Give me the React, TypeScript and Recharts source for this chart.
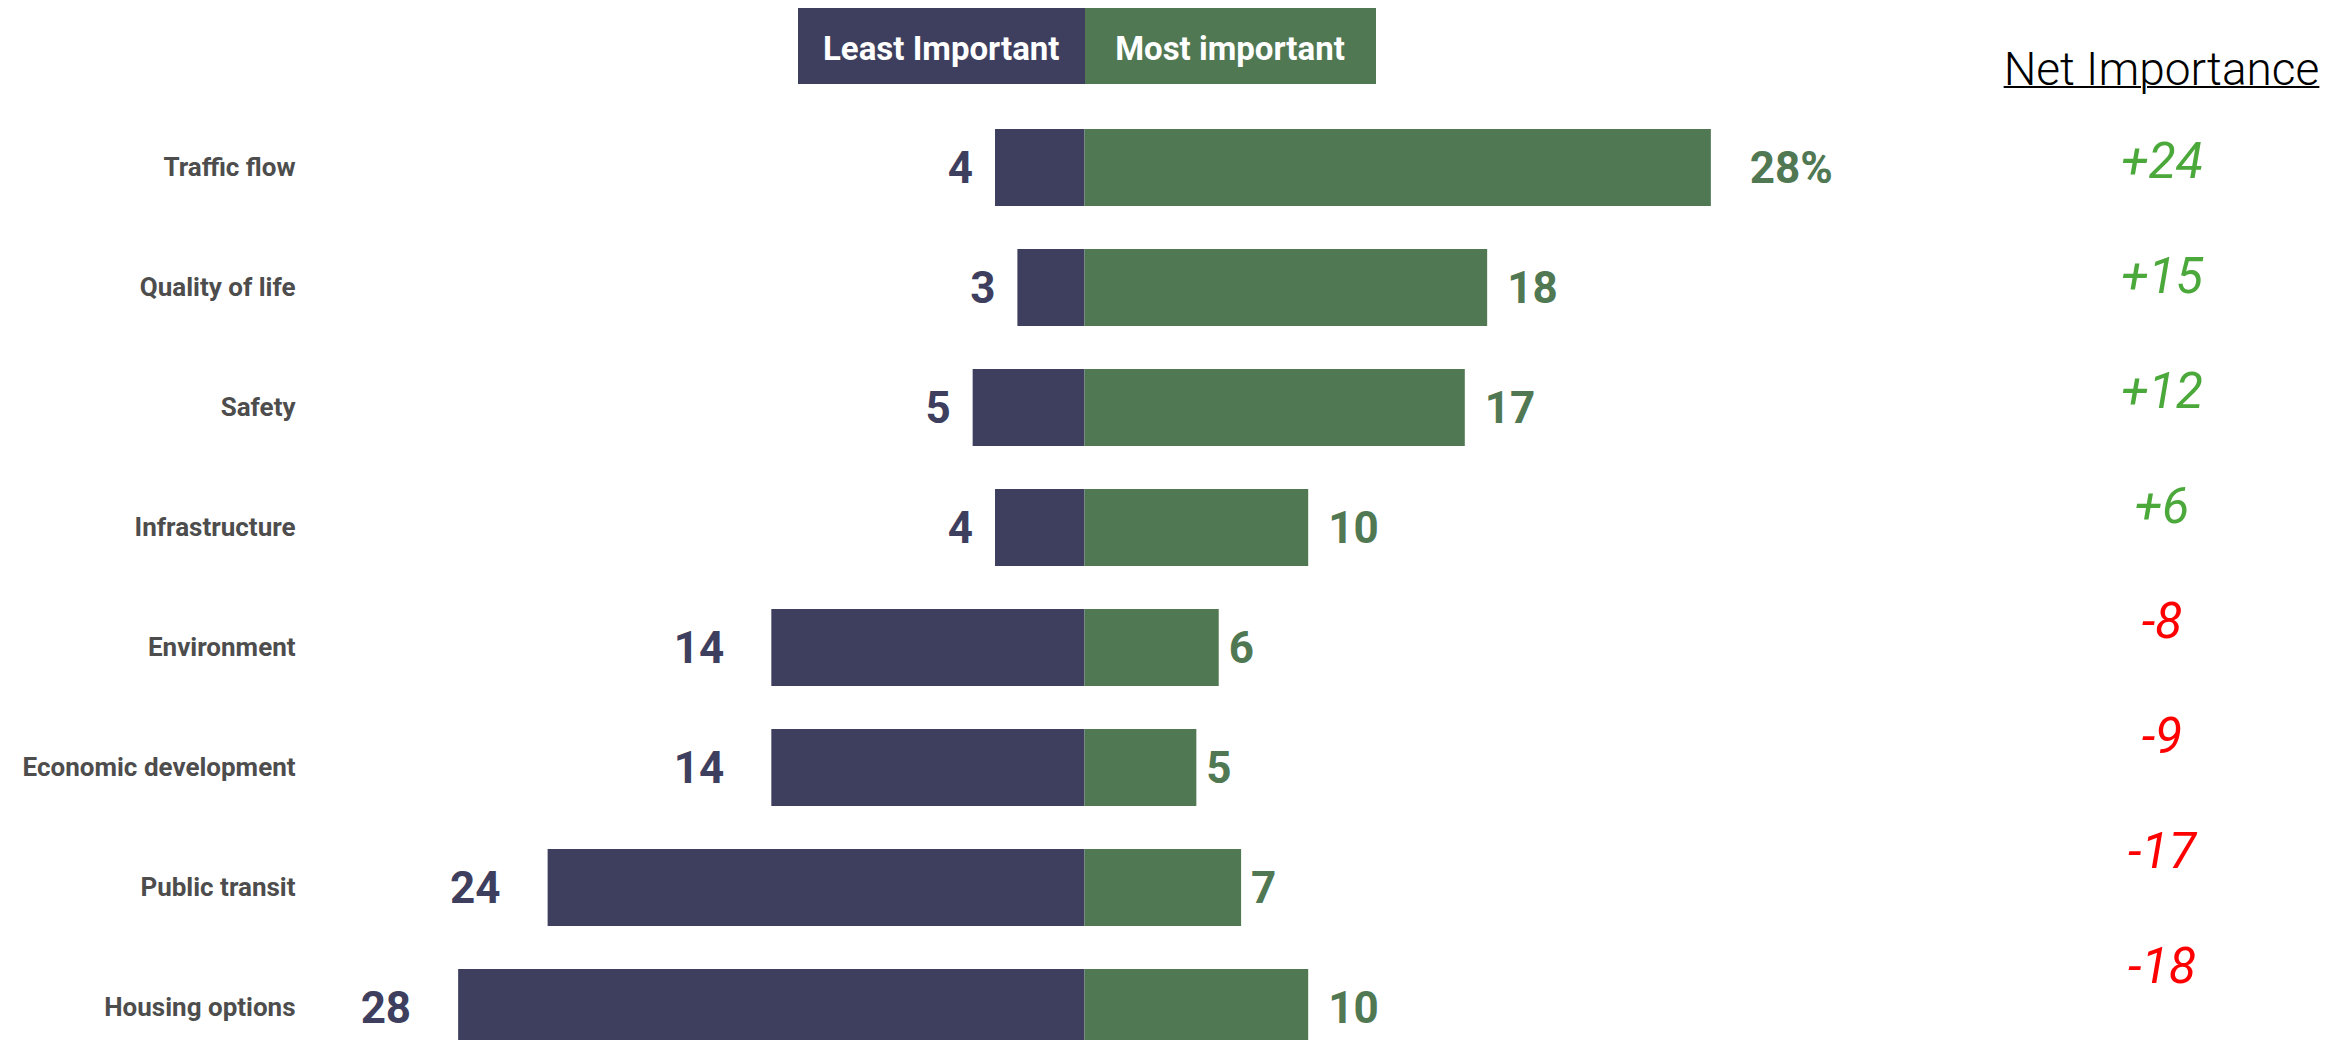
import React from "react";
import { BarChart, Bar, XAxis, YAxis, LabelList } from "recharts";

const CATEGORIES = [
  "Traffic flow",
  "Quality of life",
  "Safety",
  "Infrastructure",
  "Environment",
  "Economic development",
  "Public transit",
  "Housing options",
];
const LEAST_IMPORTANT = [4, 3, 5, 4, 14, 14, 24, 28];
const MOST_IMPORTANT = [28, 18, 17, 10, 6, 5, 7, 10];
const NET_IMPORTANCE = [24, 15, 12, 6, -8, -9, -17, -18];

const NAVY = "#3e3f5e";
const GREEN = "#507853";
const NET_GREEN = "#4ba83a";
const NET_RED = "#ff0000";
const FONT = "Roboto, 'Open Sans', sans-serif";

const data = CATEGORIES.map((name, i) => ({
  name,
  least: -LEAST_IMPORTANT[i],
  most: MOST_IMPORTANT[i],
}));

const netData = CATEGORIES.map((name, i) => ({
  name,
  net: NET_IMPORTANCE[i],
  netLabel: (NET_IMPORTANCE[i] > 0 ? "+" : "") + NET_IMPORTANCE[i],
}));

// label gaps by text length (matches the original spacing)
const LEFT_GAP = [0, 22, 47, 70];
const RIGHT_GAP = [0, 10, 20, 39];

const getBox = (props: any) => {
  const vb = props.viewBox || {};
  const x = vb.x ?? props.x;
  const y = vb.y ?? props.y;
  const w = vb.width ?? props.width;
  const h = vb.height ?? props.height;
  return { left: Math.min(x, x + w), right: Math.max(x, x + w), cy: y + h / 2 };
};

const renderLeastLabel = (props: any) => {
  const { left, cy } = getBox(props);
  const text = String(Math.abs(Number(props.value)));
  return (
    <text
      x={left - LEFT_GAP[text.length]}
      y={cy}
      dy="0.355em"
      textAnchor="end"
      fill={NAVY}
      fontSize={44}
      fontWeight="bold"
      fontFamily={FONT}
    >
      {text}
    </text>
  );
};

const renderMostLabel = (props: any) => {
  const { right, cy } = getBox(props);
  const text = props.index === 0 ? `${props.value}%` : String(props.value);
  return (
    <text
      x={right + RIGHT_GAP[text.length]}
      y={cy}
      dy="0.355em"
      textAnchor="start"
      fill={GREEN}
      fontSize={44}
      fontWeight="bold"
      fontFamily={FONT}
    >
      {text}
    </text>
  );
};

const CategoryTick = ({ x, y, payload }: any) => (
  <text
    x={x}
    y={y}
    dy="0.355em"
    textAnchor="end"
    fill="#4d4d4d"
    fontSize={26}
    fontWeight="bold"
    fontFamily={FONT}
  >
    {payload.value}
  </text>
);

const NetTick = ({ x, y, payload }: any) => (
  <text
    x={x}
    y={y}
    dy="0.355em"
    textAnchor="middle"
    fill={String(payload.value).startsWith("+") ? NET_GREEN : NET_RED}
    fontSize={50}
    fontWeight={400}
    fontStyle="italic"
    fontFamily={FONT}
  >
    {payload.value}
  </text>
);

const legendBox: React.CSSProperties = {
  position: "absolute",
  top: 0,
  height: 76,
  lineHeight: "81px",
  overflow: "hidden",
  textAlign: "center",
  color: "#ffffff",
  fontFamily: FONT,
  fontWeight: "bold",
  fontSize: 33,
};

export default function App() {
  return (
    <div
      style={{
        position: "fixed",
        left: 8,
        top: 8,
        width: 2343,
        height: 1032,
        overflow: "hidden",
        background: "#ffffff",
      }}
    >
      <div style={{ ...legendBox, left: 790, width: 286.5, background: NAVY }}>
        Least Important
      </div>
      <div style={{ ...legendBox, left: 1076.5, width: 291, background: GREEN }}>
        Most important
      </div>

      <div style={{ position: "absolute", left: 0, top: 0 }}>
        <BarChart
          width={1848}
          height={1059}
          data={data}
          layout="vertical"
          stackOffset="sign"
          margin={{ top: 99, right: 100.4, bottom: 0, left: 0 }}
        >
          <XAxis type="number" domain={[-35, 30]} hide />
          <YAxis
            type="category"
            dataKey="name"
            width={293.55}
            axisLine={false}
            tickLine={false}
            tickSize={0}
            tickMargin={6}
            tick={<CategoryTick />}
            interval={0}
          />
          <Bar dataKey="least" stackId="s" fill={NAVY} barSize={77} isAnimationActive={false}>
            <LabelList dataKey="least" content={renderLeastLabel} />
          </Bar>
          <Bar dataKey="most" stackId="s" fill={GREEN} barSize={77} isAnimationActive={false}>
            <LabelList dataKey="most" content={renderMostLabel} />
          </Bar>
        </BarChart>
      </div>

      <div
        style={{
          position: "absolute",
          left: 1953.5,
          top: 38.3,
          width: 400,
          textAlign: "center",
          fontFamily: FONT,
          fontWeight: 300,
          fontSize: 46,
          lineHeight: "46px",
          color: "#000000",
          textDecoration: "underline",
          textDecorationThickness: 2,
        }}
      >
        Net Importance
      </div>

      <div style={{ position: "absolute", left: 1954, top: 0 }}>
        <BarChart
          width={380}
          height={1015.25}
          data={netData}
          layout="vertical"
          margin={{ top: 94.45, right: 176, bottom: 0, left: 0 }}
        >
          <XAxis type="number" hide />
          <YAxis
            type="category"
            dataKey="netLabel"
            width={200}
            axisLine={false}
            tickLine={false}
            tickSize={0}
            tickMargin={0}
            tick={<NetTick />}
            interval={0}
          />
          <Bar dataKey="net" fill="none" isAnimationActive={false} />
        </BarChart>
      </div>
    </div>
  );
}
